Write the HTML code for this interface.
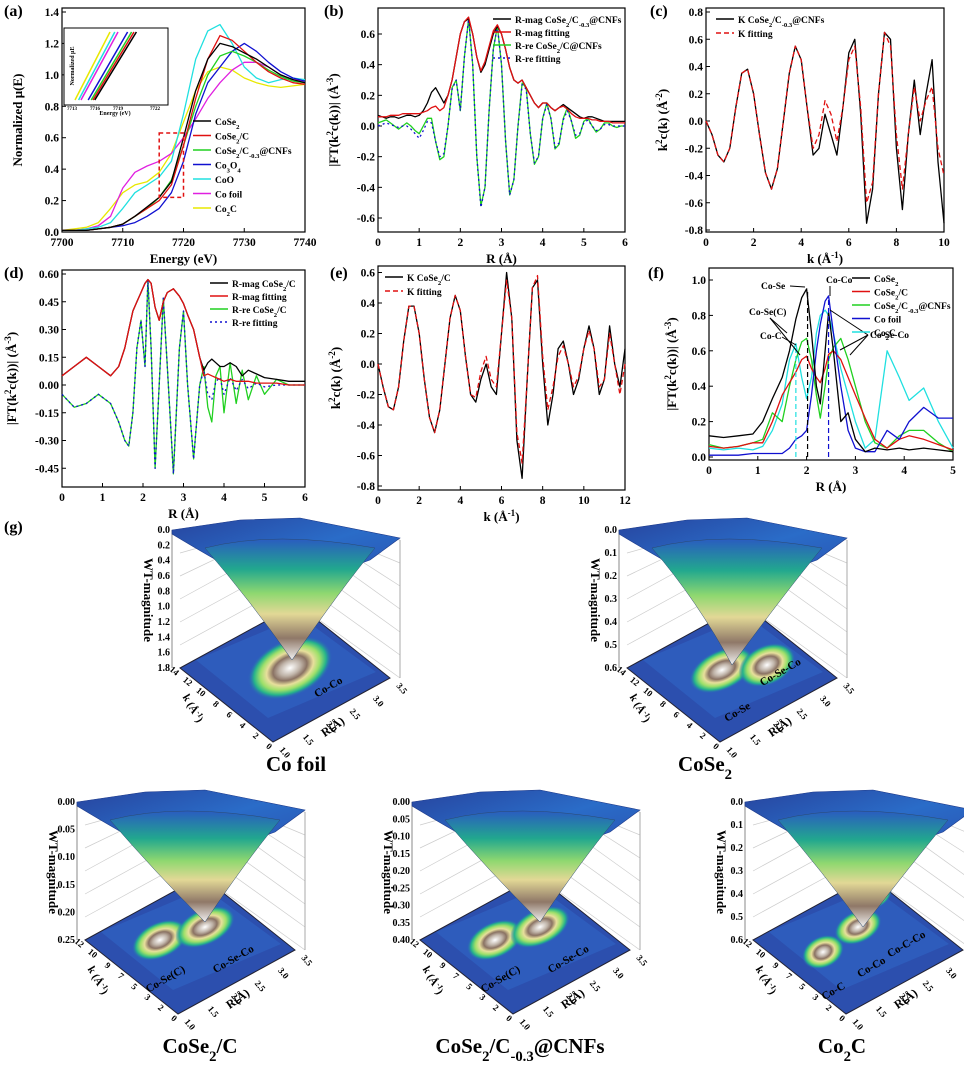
<!DOCTYPE html>
<html><head><meta charset="utf-8"><style>
html,body{margin:0;padding:0;background:#fff}
svg{display:block}
text{font-family:"Liberation Serif","Noto Serif CJK SC",serif;font-weight:bold}
</style></head><body>
<svg id="fig" width="964" height="1073" viewBox="0 0 964 1073" xmlns="http://www.w3.org/2000/svg">
<defs>
<linearGradient id="funnel" x1="0" y1="0" x2="0" y2="1">
<stop offset="0" stop-color="#2a5cc0"/><stop offset="0.25" stop-color="#22a88e"/><stop offset="0.45" stop-color="#8fd870"/><stop offset="0.62" stop-color="#e2d896"/><stop offset="0.82" stop-color="#8f7868"/><stop offset="1" stop-color="#f2f2f2"/>
</linearGradient>
<linearGradient id="topsurf" x1="0" y1="0" x2="1" y2="1">
<stop offset="0" stop-color="#27449e"/><stop offset="0.5" stop-color="#2a6cc8"/><stop offset="1" stop-color="#2a4fae"/>
</linearGradient>
<radialGradient id="blob">
<stop offset="0" stop-color="#ffffff"/><stop offset="0.25" stop-color="#bfb3a8"/><stop offset="0.4" stop-color="#8a7263"/><stop offset="0.55" stop-color="#e8df9c"/><stop offset="0.7" stop-color="#9ee06a"/><stop offset="0.85" stop-color="#25b48a"/><stop offset="1" stop-color="#2a5bc0" stop-opacity="0"/>
</radialGradient>
</defs>
</svg>
<script>
// ---------- data ----------
const aE=[7700,7702,7704,7706,7708,7710,7712,7714,7716,7718,7720,7722,7724,7726,7728,7730,7732,7734,7736,7738,7740];
const aCoSe2=[0.01,0.01,0.01,0.02,0.03,0.05,0.1,0.16,0.22,0.32,0.6,0.9,1.1,1.2,1.18,1.14,1.1,1.05,1.0,0.97,0.95];
const aCoSe2C=[0.01,0.01,0.01,0.02,0.03,0.05,0.1,0.15,0.2,0.3,0.55,0.85,1.1,1.25,1.22,1.15,1.08,1.02,0.98,0.95,0.94];
const aCNF=[0.01,0.01,0.01,0.02,0.03,0.05,0.1,0.15,0.22,0.33,0.55,0.8,1.0,1.12,1.15,1.12,1.08,1.03,0.99,0.96,0.95];
const aCo3O4=[0.01,0.01,0.01,0.02,0.03,0.04,0.06,0.1,0.15,0.25,0.45,0.75,0.95,1.05,1.15,1.2,1.15,1.08,1.02,0.98,0.96];
const aCoO=[0.01,0.01,0.02,0.03,0.06,0.15,0.25,0.3,0.35,0.45,0.75,1.1,1.28,1.32,1.2,1.05,0.98,0.95,0.97,0.98,0.97];
const aFoil=[0.01,0.01,0.02,0.04,0.1,0.28,0.38,0.42,0.45,0.5,0.6,0.72,0.85,0.95,1.03,1.08,1.08,1.05,1.0,0.97,0.96];
const aCo2C=[0.01,0.02,0.03,0.06,0.15,0.25,0.3,0.32,0.38,0.5,0.7,0.9,1.02,1.05,1.03,0.98,0.95,0.93,0.92,0.93,0.94];

const bR=[0,0.1,0.2,0.3,0.4,0.5,0.6,0.7,0.8,0.9,1.0,1.1,1.2,1.3,1.4,1.5,1.6,1.7,1.8,1.9,2.0,2.1,2.2,2.3,2.4,2.5,2.6,2.7,2.8,2.9,3.0,3.1,3.2,3.3,3.4,3.5,3.6,3.7,3.8,3.9,4.0,4.1,4.2,4.3,4.4,4.5,4.6,4.7,4.8,4.9,5.0,5.1,5.2,5.3,5.4,5.5,5.6,5.7,5.8,5.9,6.0];
const bMag=[0.07,0.06,0.05,0.06,0.06,0.05,0.06,0.07,0.07,0.06,0.07,0.1,0.15,0.22,0.25,0.2,0.15,0.2,0.3,0.45,0.6,0.68,0.7,0.6,0.45,0.35,0.4,0.5,0.6,0.65,0.6,0.5,0.38,0.3,0.28,0.3,0.25,0.2,0.15,0.12,0.15,0.15,0.12,0.1,0.12,0.14,0.12,0.1,0.08,0.06,0.05,0.06,0.06,0.05,0.04,0.03,0.03,0.03,0.03,0.03,0.03];
const bMagFit=[0.06,0.06,0.06,0.07,0.07,0.07,0.08,0.08,0.08,0.08,0.08,0.09,0.1,0.12,0.13,0.1,0.12,0.2,0.3,0.45,0.6,0.68,0.71,0.6,0.45,0.36,0.42,0.52,0.62,0.66,0.6,0.5,0.38,0.3,0.28,0.3,0.25,0.2,0.15,0.12,0.15,0.15,0.12,0.1,0.12,0.13,0.11,0.08,0.06,0.05,0.05,0.05,0.04,0.04,0.03,0.03,0.03,0.02,0.02,0.02,0.02];
const bRe=[0.02,0.03,0.04,0.02,0.0,-0.02,0.0,0.02,0.0,-0.03,-0.05,0.0,0.05,0.05,-0.1,-0.22,-0.2,0.0,0.25,0.3,0.1,0.45,0.7,0.4,-0.2,-0.52,-0.4,0.1,0.5,0.65,0.4,-0.1,-0.45,-0.35,0.0,0.28,0.25,-0.05,-0.25,-0.2,0.05,0.15,0.05,-0.15,-0.12,0.05,0.12,0.03,-0.08,-0.06,0.03,0.05,0.0,-0.04,-0.02,0.02,0.02,0.0,-0.01,0.0,0.0];
const bReFit=[0.0,0.01,0.02,0.01,0.0,-0.01,0.0,0.0,-0.02,-0.05,-0.08,-0.03,0.03,0.02,-0.1,-0.2,-0.18,0.0,0.24,0.3,0.1,0.45,0.7,0.4,-0.2,-0.53,-0.4,0.1,0.5,0.65,0.4,-0.1,-0.45,-0.35,0.0,0.27,0.24,-0.05,-0.24,-0.2,0.05,0.14,0.05,-0.14,-0.11,0.04,0.1,0.03,-0.06,-0.05,0.02,0.04,0.0,-0.03,-0.02,0.01,0.01,0.0,0.0,0.0,0.0];

const cK=[0,0.25,0.5,0.75,1,1.25,1.5,1.75,2,2.25,2.5,2.75,3,3.25,3.5,3.75,4,4.25,4.5,4.75,5,5.25,5.5,5.75,6,6.25,6.5,6.75,7,7.25,7.5,7.75,8,8.25,8.5,8.75,9,9.25,9.5,9.75,10];
const cExp=[0,-0.1,-0.25,-0.3,-0.2,0.1,0.35,0.38,0.2,-0.1,-0.38,-0.5,-0.35,0.0,0.35,0.55,0.45,0.1,-0.25,-0.2,0.05,-0.1,-0.25,0.1,0.5,0.6,0.05,-0.75,-0.5,0.2,0.65,0.6,-0.2,-0.65,-0.1,0.3,-0.1,0.2,0.45,-0.3,-0.75];
const cFit=[0,-0.1,-0.25,-0.3,-0.2,0.1,0.35,0.38,0.2,-0.1,-0.38,-0.5,-0.35,0.0,0.35,0.55,0.45,0.1,-0.2,-0.1,0.15,0.05,-0.15,0.1,0.45,0.55,0.1,-0.6,-0.45,0.2,0.65,0.55,-0.1,-0.5,-0.1,0.25,0.0,0.15,0.25,-0.2,-0.4];

const dR=[0,0.3,0.6,0.9,1.2,1.4,1.55,1.65,1.75,1.85,1.95,2.05,2.12,2.2,2.3,2.4,2.5,2.6,2.75,2.9,3.0,3.1,3.25,3.4,3.5,3.6,3.7,3.8,3.9,4.0,4.15,4.3,4.45,4.6,4.8,5.0,5.3,5.6,6.0];
const dMag=[0.05,0.1,0.15,0.1,0.05,0.1,0.2,0.3,0.4,0.45,0.5,0.55,0.57,0.55,0.42,0.35,0.45,0.5,0.52,0.48,0.44,0.38,0.3,0.15,0.08,0.12,0.14,0.12,0.1,0.1,0.12,0.1,0.05,0.08,0.06,0.04,0.03,0.02,0.02];
const dMagFit=[0.05,0.1,0.15,0.1,0.05,0.1,0.2,0.3,0.4,0.45,0.5,0.55,0.57,0.55,0.42,0.35,0.45,0.5,0.52,0.48,0.44,0.38,0.3,0.15,0.05,0.06,0.05,0.04,0.03,0.02,0.03,0.02,0.02,0.02,0.01,0.01,0.01,0.0,0.0];
const dRe=[-0.05,-0.12,-0.1,-0.05,-0.1,-0.2,-0.3,-0.33,-0.15,0.2,0.35,0.1,0.57,0.2,-0.45,0.0,0.47,0.1,-0.48,0.2,0.4,0.0,-0.4,0.0,0.1,-0.12,-0.2,0.05,0.1,-0.15,0.12,-0.1,0.08,-0.08,0.05,-0.05,0.03,0.0,0.0];
const dReFit=[-0.05,-0.12,-0.1,-0.05,-0.1,-0.2,-0.3,-0.33,-0.15,0.2,0.35,0.1,0.57,0.2,-0.45,0.0,0.47,0.1,-0.48,0.2,0.4,0.0,-0.4,0.0,0.08,-0.05,-0.08,0.02,0.04,-0.05,0.04,-0.03,0.03,-0.02,0.01,-0.01,0.0,0.0,0.0];

const eK=[0,0.25,0.5,0.75,1,1.25,1.5,1.75,2,2.25,2.5,2.75,3,3.25,3.5,3.75,4,4.25,4.5,4.75,5,5.25,5.5,5.75,6,6.25,6.5,6.75,7,7.25,7.5,7.75,8,8.25,8.5,8.75,9,9.25,9.5,9.75,10,10.25,10.5,10.75,11,11.25,11.5,11.75,12];
const eExp=[0,-0.15,-0.28,-0.3,-0.15,0.15,0.38,0.38,0.2,-0.1,-0.35,-0.45,-0.3,0.0,0.3,0.45,0.35,0.05,-0.2,-0.25,-0.1,0.0,-0.15,-0.2,0.2,0.6,0.3,-0.5,-0.75,-0.1,0.5,0.55,0.0,-0.4,-0.2,0.1,0.15,0.0,-0.2,-0.1,0.1,0.25,0.1,-0.2,-0.1,0.25,0.0,-0.15,0.1];
const eFit=[0,-0.15,-0.28,-0.3,-0.15,0.15,0.38,0.38,0.2,-0.1,-0.35,-0.45,-0.3,0.0,0.3,0.45,0.35,0.05,-0.2,-0.22,-0.05,0.05,-0.1,-0.15,0.2,0.55,0.3,-0.45,-0.65,-0.1,0.5,0.58,0.05,-0.3,-0.15,0.05,0.12,0.0,-0.15,-0.08,0.1,0.22,0.1,-0.15,-0.1,0.2,0.0,-0.2,0.0];

const fR=[0,0.3,0.6,0.9,1.1,1.3,1.5,1.65,1.78,1.9,2.0,2.1,2.2,2.28,2.38,2.45,2.55,2.7,2.85,3.0,3.2,3.4,3.65,3.9,4.1,4.4,4.7,5.0];
const fCoSe2=[0.12,0.11,0.12,0.13,0.2,0.33,0.45,0.6,0.78,0.9,0.95,0.7,0.4,0.3,0.6,0.82,0.6,0.2,0.25,0.1,0.03,0.05,0.04,0.05,0.04,0.05,0.04,0.03];
const fCoSe2C=[0.06,0.05,0.06,0.08,0.08,0.2,0.35,0.42,0.48,0.55,0.57,0.5,0.45,0.42,0.5,0.58,0.6,0.55,0.45,0.35,0.22,0.1,0.05,0.1,0.12,0.1,0.07,0.04];
const fCNF=[0.07,0.05,0.06,0.08,0.1,0.25,0.2,0.4,0.55,0.65,0.67,0.55,0.35,0.22,0.4,0.55,0.62,0.67,0.55,0.4,0.2,0.08,0.05,0.12,0.15,0.15,0.08,0.03];
const fFoil=[0.01,0.01,0.01,0.02,0.02,0.02,0.02,0.05,0.1,0.12,0.15,0.35,0.6,0.75,0.88,0.91,0.7,0.4,0.15,0.05,0.03,0.03,0.15,0.1,0.2,0.28,0.22,0.22];
const fCo2C=[0.05,0.04,0.05,0.04,0.06,0.15,0.3,0.55,0.64,0.45,0.33,0.45,0.7,0.8,0.83,0.8,0.7,0.5,0.35,0.2,0.05,0.1,0.6,0.45,0.32,0.39,0.2,0.05];

// ---------- helpers ----------
const NS='http://www.w3.org/2000/svg';
const svg=document.getElementById('fig');
function mk(tag,attrs,parent){const e=document.createElementNS(NS,tag);for(const k in attrs)e.setAttribute(k,attrs[k]);(parent||svg).appendChild(e);return e;}
function T(str,x,y,size,parent,anchor,rot){
  const t=mk('text',{x:x,y:y,'font-size':size,'text-anchor':anchor||'start'},parent);
  if(rot)t.setAttribute('transform','rotate('+rot+' '+x+' '+y+')');
  t.innerHTML=str;return t;}
function makeAxes(cfg){
  const g=mk('g',{});
  
  
  const sx=v=>cfg.x0+(v-cfg.xmin)/(cfg.xmax-cfg.xmin)*(cfg.x1-cfg.x0);
  const sy=v=>cfg.pa+(v-cfg.va)*(cfg.pb-cfg.pa)/(cfg.vb-cfg.va);
  const fr=mk('rect',{x:cfg.x0,y:cfg.top,width:cfg.x1-cfg.x0,height:cfg.bot-cfg.top,fill:'none',stroke:'#000','stroke-width':1.2},g);
  
  
  cfg.xt.forEach((v,i)=>{const x=sx(v);
    mk('line',{x1:x,y1:cfg.bot,x2:x,y2:cfg.bot-4,stroke:'#000'},g);
    const t=T(cfg.xl[i],x,cfg.bot+14,11.5,g,'middle');
    
    });
  cfg.yt.forEach((v,i)=>{const y=sy(v);
    mk('line',{x1:cfg.x0,y1:y,x2:cfg.x0+4,y2:y,stroke:'#000'},g);
    const t=T(cfg.yl[i],cfg.x0-3,y+4,11.5,g,'end');
    
    });
  const xt=T(cfg.xtitle,(cfg.x0+cfg.x1)/2,cfg.bot+31,13,g,'middle');
  
  
  const yt=T(cfg.ytitle,cfg.ytx,(cfg.top+cfg.bot)/2,13,g,'middle',-90);
  
  
  const pl=T(cfg.label,cfg.lx,cfg.ly,16,g);
  
  
  return {g,sx,sy};
}
function series(ax,xs,ys,color,dash,name,w){
  const pts=xs.map((x,i)=>ax.sx(x).toFixed(1)+','+ax.sy(ys[i]).toFixed(1)).join(' ');
  const p=mk('polyline',{points:pts,fill:'none',stroke:color,'stroke-width':w||1.3,'stroke-dasharray':dash||'none','stroke-linejoin':'round'},ax.g);
  
  
  return p;
}
function legend(g,x,y,color,label,dash){
  const l=mk('line',{x1:x,y1:y-4,x2:x+18,y2:y-4,stroke:color,'stroke-width':1.5,'stroke-dasharray':dash||'none'},g);
  
  
  const t=T(label,x+22,y,9.5,g);
  
  
}
const sub=s=>'<tspan baseline-shift="sub" font-size="70%">'+s+'</tspan>';
const sup=s=>'<tspan baseline-shift="super" font-size="70%">'+s+'</tspan>';

// ---------- (a) ----------
const A=makeAxes({name:'panel-a-xanes',x0:62,x1:305,top:8,bot:232,xmin:7700,xmax:7740,pa:232,va:0,pb:12,vb:1.4,
 xt:[7700,7710,7720,7730,7740],xl:['7700','7710','7720','7730','7740'],
 yt:[0,0.2,0.4,0.6,0.8,1.0,1.2,1.4],yl:['0.0','0.2','0.4','0.6','0.8','1.0','1.2','1.4'],
 xtitle:'Energy (eV)',ytitle:'Normalized μ(E)',ytx:22,label:'(a)',lx:4,ly:16});
series(A,aE,aCo2C,'#e8e800',null,'series-co2c');
series(A,aE,aFoil,'#e020e0',null,'series-co-foil');
series(A,aE,aCoO,'#20e0e0',null,'series-coo');
series(A,aE,aCo3O4,'#1010d0',null,'series-co3o4');
series(A,aE,aCNF,'#20d020',null,'series-cose2-c-cnfs');
series(A,aE,aCoSe2C,'#e01010',null,'series-cose2-c');
series(A,aE,aCoSe2,'#000',null,'series-cose2');
mk('rect',{x:A.sx(7716),y:A.sy(0.63),width:A.sx(7720)-A.sx(7716),height:A.sy(0.22)-A.sy(0.63),fill:'none',stroke:'#e01010','stroke-width':1.5,'stroke-dasharray':'4,3'},A.g);
const ins=mk('g',{},A.g);


mk('rect',{x:64,y:28,width:104,height:77,fill:'#fff',stroke:'#000'},ins);
[['#e8e800',0],['#20e0e0',6],['#e020e0',10],['#1010d0',22],['#20d020',27],['#e01010',30],['#000',33]].forEach(c=>{
  mk('line',{x1:75+c[1]*0.6,y1:100,x2:110+c[1]*0.8,y2:32,stroke:c[0],'stroke-width':1.5},ins);});
T('Normalized μE',74,66,6,ins,'middle',-90);
T('Energy (eV)',115,115,6,ins,'middle');
[['7713',72],['7716',95],['7719',118],['7722',155]].forEach(t=>T(t[0],t[1],110,5,ins,'middle'));
const lgA=mk('g',{},A.g);


[['#000','CoSe'+sub('2')],['#e01010','CoSe'+sub('2')+'/C'],['#20d020','CoSe'+sub('2')+'/C'+sub('-0.3')+'@CNFs'],['#1010d0','Co'+sub('3')+'O'+sub('4')],['#20e0e0','CoO'],['#e020e0','Co foil'],['#e8e800','Co'+sub('2')+'C']].forEach((e,i)=>legend(lgA,193,125+i*14.5,e[0],e[1]));

// ---------- (b) ----------
const B=makeAxes({name:'panel-b-ft-fit',x0:378,x1:625,top:8,bot:232,xmin:0,xmax:6,pa:126,va:0,pb:34,vb:0.6,
 xt:[0,1,2,3,4,5,6],xl:['0','1','2','3','4','5','6'],
 yt:[-0.6,-0.4,-0.2,0,0.2,0.4,0.6],yl:['-0.6','-0.4','-0.2','0.0','0.2','0.4','0.6'],
 xtitle:'R (Å)',ytitle:'|FT(k'+sup('2')+'c(k))|  (Å'+sup('-3')+')',ytx:338,label:'(b)',lx:324,ly:16});
series(B,bR,bRe,'#20d020',null,'series-r-re');
series(B,bR,bReFit,'#1010d0','2,3','series-r-re-fit');
series(B,bR,bMag,'#000',null,'series-r-mag');
series(B,bR,bMagFit,'#e01010',null,'series-r-mag-fit');
const lgB=mk('g',{},B.g);


[['#000','R-mag CoSe'+sub('2')+'/C'+sub('-0.3')+'@CNFs',null],['#e01010','R-mag fitting',null],['#20d020','R-re CoSe'+sub('2')+'/C@CNFs',null],['#1010d0','R-re fitting','2,3']].forEach((e,i)=>legend(lgB,493,23+i*13,e[0],e[1],e[2]));

// ---------- (c) ----------
const C=makeAxes({name:'panel-c-kspace',x0:706,x1:944,top:8,bot:232,xmin:0,xmax:10,pa:121,va:0,pb:12,vb:0.8,
 xt:[0,2,4,6,8,10],xl:['0','2','4','6','8','10'],
 yt:[-0.8,-0.6,-0.4,-0.2,0,0.2,0.4,0.6,0.8],yl:['-0.8','-0.6','-0.4','-0.2','0.0','0.2','0.4','0.6','0.8'],
 xtitle:'k (Å'+sup('-1')+')',ytitle:'k'+sup('2')+'c(k)  (Å'+sup('-2')+')',ytx:667,label:'(c)',lx:650,ly:16});
series(C,cK,cExp,'#000',null,'series-k-exp');
series(C,cK,cFit,'#e01010','5,3','series-k-fit');
const lgC=mk('g',{},C.g);


legend(lgC,716,23,'#000','K CoSe'+sub('2')+'/C'+sub('-0.3')+'@CNFs');
legend(lgC,716,37,'#e01010','K fitting','5,3');

// ---------- (d) ----------
const D=makeAxes({name:'panel-d-ft-fit',x0:62,x1:305,top:270,bot:487,xmin:0,xmax:6,pa:385,va:0,pb:274,vb:0.6,
 xt:[0,1,2,3,4,5,6],xl:['0','1','2','3','4','5','6'],
 yt:[-0.45,-0.3,-0.15,0,0.15,0.3,0.45,0.6],yl:['-0.45','-0.30','-0.15','0.00','0.15','0.30','0.45','0.60'],
 xtitle:'R (Å)',ytitle:'|FT(k'+sup('2')+'c(k))|  (Å'+sup('-3')+')',ytx:16,label:'(d)',lx:4,ly:278});
series(D,dR,dRe,'#20d020',null,'series-r-re');
series(D,dR,dReFit,'#1010d0','2,3','series-r-re-fit');
series(D,dR,dMag,'#000',null,'series-r-mag');
series(D,dR,dMagFit,'#e01010',null,'series-r-mag-fit');
const lgD=mk('g',{},D.g);


[['#000','R-mag CoSe'+sub('2')+'/C',null],['#e01010','R-mag fitting',null],['#20d020','R-re CoSe'+sub('2')+'/C',null],['#1010d0','R-re fitting','2,3']].forEach((e,i)=>legend(lgD,210,287+i*13,e[0],e[1],e[2]));

// ---------- (e) ----------
const E=makeAxes({name:'panel-e-kspace',x0:378,x1:625,top:266,bot:490,xmin:0,xmax:12,pa:364,va:0,pb:272.5,vb:0.6,
 xt:[0,2,4,6,8,10,12],xl:['0','2','4','6','8','10','12'],
 yt:[-0.8,-0.6,-0.4,-0.2,0,0.2,0.4,0.6],yl:['-0.8','-0.6','-0.4','-0.2','0.0','0.2','0.4','0.6'],
 xtitle:'k (Å'+sup('-1')+')',ytitle:'k'+sup('2')+'c(k)  (Å'+sup('-2')+')',ytx:340,label:'(e)',lx:330,ly:278});
series(E,eK,eExp,'#000',null,'series-k-exp');
series(E,eK,eFit,'#e01010','5,3','series-k-fit');
const lgE=mk('g',{},E.g);


legend(lgE,385,281,'#000','K CoSe'+sub('2')+'/C');
legend(lgE,385,295,'#e01010','K fitting','5,3');

// ---------- (f) ----------
const F=makeAxes({name:'panel-f-ft-compare',x0:709,x1:953,top:268,bot:460,xmin:0,xmax:5,pa:457,va:0,pb:280,vb:1.0,
 xt:[0,1,2,3,4,5],xl:['0','1','2','3','4','5'],
 yt:[0,0.2,0.4,0.6,0.8,1.0],yl:['0.0','0.2','0.4','0.6','0.8','1.0'],
 xtitle:'R (Å)',ytitle:'|FT(k'+sup('2')+'c(k))|  (Å'+sup('-3')+')',ytx:676,label:'(f)',lx:648,ly:278});
series(F,fR,fCo2C,'#20e0e0',null,'series-co2c');
series(F,fR,fCNF,'#20d020',null,'series-cose2-c-cnfs');
series(F,fR,fCoSe2C,'#e01010',null,'series-cose2-c');
series(F,fR,fFoil,'#1010d0',null,'series-co-foil');
series(F,fR,fCoSe2,'#000',null,'series-cose2');
[[2.02,'#000',0.95],[2.45,'#1010d0',0.9],[1.78,'#20e0e0',0.64]].forEach(v=>{
  mk('line',{x1:F.sx(v[0]),y1:F.sy(0),x2:F.sx(v[0]),y2:F.sy(v[2]),stroke:v[1],'stroke-width':1.2,'stroke-dasharray':'5,3'},F.g);});
const ann=[['Co-Se',761,289],['Co-Co',826,283],['Co-Se(C)',749,315],['Co-C',760,339],['Co-Se-Co',870,338]];
ann.forEach(a=>{const t=T(a[0],a[1],a[2],9.5,F.g);
  
  });
[[790,286,805,287],[830,286,830,296],[770,318,800,355],[770,318,787,333],[782,337,796,345],[868,335,830,310],[868,335,840,350],[868,335,850,355]].forEach(l=>mk('line',{x1:l[0],y1:l[1],x2:l[2],y2:l[3],stroke:'#000','stroke-width':1},F.g));
const lgF=mk('g',{},F.g);


[['#000','CoSe'+sub('2')],['#e01010','CoSe'+sub('2')+'/C'],['#20d020','CoSe'+sub('2')+'/C'+sub('-0.3')+'@CNFs'],['#1010d0','Co foil'],['#20e0e0','Co'+sub('2')+'C']].forEach((e,i)=>legend(lgF,852,282+i*13.5,e[0],e[1]));

// ---------- (g) wavelet panels ----------
const gl=T('(g)',4,532,16);


function wt(dx,dy,name,ticks,kmax,blobs,labels,title,tx,tip){
  const g=mk('g',{transform:'translate('+dx+','+dy+')'});
  
  
  const L=[180,668],Fr=[273,742],R=[390,678],Bk=[297,604],H=138;
  for(let i=0;i<=6;i++){const y=L[1]-H+i*H/6;
    mk('line',{x1:L[0],y1:y,x2:Bk[0],y2:Math.max(y-64,520),stroke:'#ccc','stroke-width':0.7},g);
    mk('line',{x1:Bk[0],y1:Math.max(y-64,520),x2:R[0]+10,y2:y+10,stroke:'#ccc','stroke-width':0.7},g);}
  mk('line',{x1:L[0]-8,y1:L[1]-H,x2:L[0]-8,y2:L[1],stroke:'#888'},g);
  mk('line',{x1:R[0]+10,y1:R[1]-H,x2:R[0]+10,y2:R[1],stroke:'#aaa'},g);
  mk('polygon',{points:[L,Fr,R,Bk].map(p=>p.join(',')).join(' '),fill:'#2c4fae',stroke:'#223'},g);
  mk('polygon',{points:'196,660 268,718 376,672 300,616',fill:'#2f63c2',opacity:0.7},g);
  blobs.forEach(b=>{mk('ellipse',{cx:b[0],cy:b[1],rx:b[2],ry:b[3],fill:'url(#blob)',transform:'rotate(-25 '+b[0]+' '+b[1]+')'},g);});
  mk('path',{d:'M172,530 L240,520 L300,518 L400,538 L370,560 Q330,575 270,590 Q215,560 172,534 Z',fill:'url(#topsurf)',stroke:'#1d3a8a','stroke-width':0.6},g);
  mk('path',{d:'M205,548 Q275,530 375,548 Q340,590 '+tip[0]+','+tip[1]+' Q250,600 205,548 Z',fill:'url(#funnel)',stroke:'#2a4a70','stroke-width':0.5},g);
  ticks.forEach((t,i)=>{T(t,L[0]-10,533+i*(H/(ticks.length-1)),10,g,'end');});
  T('WT-magnitude',L[0]-36,600,13,g,'middle',90);
  for(let i=0;i<=7;i++){const v=kmax*(7-i)/7;const x=L[0]+(Fr[0]-L[0])*i/7, y=L[1]+(Fr[1]-L[1])*i/7;
    T(String(Math.round(v)),x-4,y+8,9,g,'end',40);}
  T('k (Å'+sup('-1')+')',L[0]+10,L[1]+42,11,g,'middle',60);
  ['1.0','1.5','2.0','2.5','3.0','3.5'].forEach((v,i)=>{const x=Fr[0]+(R[0]-Fr[0])*i/5+6,y=Fr[1]+(R[1]-Fr[1])*i/5+8;T(v,x,y,9,g,'start',50);});
  T('R(Å)',335,730,12,g,'middle',-35);
  labels.forEach(l=>{const t=T(l[0],l[1],l[2],11,g,'middle',-30);
    
    });
  const tt=T(title,tx,dy<100?771:1053,21,svg,'middle');
  
  
}
wt(0,0,'wt-co-foil',['0.0','0.2','0.4','0.6','0.8','1.0','1.2','1.4','1.6','1.8'],14,[[290,668,45,28]],[['Co-Co',330,690]],'Co foil',296,[292,660]);
wt(447,0,'wt-cose2',['0.0','0.1','0.2','0.3','0.4','0.5','0.6'],14,[[275,670,35,20],[320,665,30,20]],[['Co-Se-Co',335,675],['Co-Se',292,715]],'CoSe'+sub('2'),705,[285,665]);
wt(-95,272,'wt-cose2-c',['0.00','0.05','0.10','0.15','0.20','0.25'],12,[[255,668,30,18],[300,655,32,18]],[['Co-Se(C)',262,710],['Co-Se-Co',330,690]],'CoSe'+sub('2')+'/C',200,[300,650]);
wt(240,272,'wt-cose2-c-cnfs',['0.00','0.05','0.10','0.15','0.20','0.25','0.30','0.35','0.40'],12,[[255,668,30,18],[300,655,32,18]],[['Co-Se(C)',262,710],['Co-Se-Co',330,690]],'CoSe'+sub('2')+'/C'+sub('-0.3')+'@CNFs',520,[300,650]);
wt(573,272,'wt-co2c',['0.0','0.1','0.2','0.3','0.4','0.5','0.6'],12,[[250,680,22,16],[285,655,25,16],[300,625,20,12]],[['Co-C',262,722],['Co-Co',300,698],['Co-C-Co',335,675]],'Co'+sub('2')+'C',842,[290,655]);
</script>
</body></html>
